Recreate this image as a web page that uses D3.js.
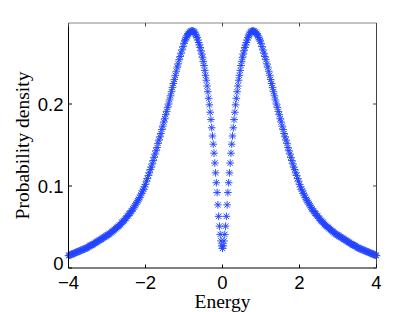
<!DOCTYPE html>
<meta charset="utf-8">
<style>
body {
  margin: 0;
  background: #fff;
}
.tick-label {
  font-family: "Liberation Sans", Arial, sans-serif;
  font-size: 18.5px;
  fill: #000;
}
.axis-title {
  font-family: "Liberation Serif", "Times New Roman", serif;
  font-size: 19.5px;
  fill: #000;
}
.marker {
  fill: none;
  stroke: #2343ff;
  stroke-width: 0.95px;
}
</style>
<body>
<script src="https://d3js.org/d3.v7.min.js"></script>
<script>
var width = 415,
    height = 312;

// energies (x)
var energy = [
  -4.000, -3.975, -3.950, -3.925, -3.900, -3.875, -3.850, -3.825, -3.800, -3.775,
  -3.750, -3.725, -3.700, -3.675, -3.650, -3.625, -3.600, -3.575, -3.550, -3.525,
  -3.500, -3.475, -3.450, -3.425, -3.400, -3.375, -3.350, -3.325, -3.300, -3.275,
  -3.250, -3.225, -3.200, -3.175, -3.150, -3.125, -3.100, -3.075, -3.050, -3.025,
  -3.000, -2.975, -2.950, -2.925, -2.900, -2.875, -2.850, -2.825, -2.800, -2.775,
  -2.750, -2.725, -2.700, -2.675, -2.650, -2.625, -2.600, -2.575, -2.550, -2.525,
  -2.500, -2.475, -2.450, -2.425, -2.400, -2.375, -2.350, -2.325, -2.300, -2.275,
  -2.250, -2.225, -2.200, -2.175, -2.150, -2.125, -2.100, -2.075, -2.050, -2.025,
  -2.000, -1.975, -1.950, -1.925, -1.900, -1.875, -1.850, -1.825, -1.800, -1.775,
  -1.750, -1.725, -1.700, -1.675, -1.650, -1.625, -1.600, -1.575, -1.550, -1.525,
  -1.500, -1.475, -1.450, -1.425, -1.400, -1.375, -1.350, -1.325, -1.300, -1.275,
  -1.250, -1.225, -1.200, -1.175, -1.150, -1.125, -1.100, -1.075, -1.050, -1.025,
  -1.00, -0.98, -0.96, -0.94, -0.92, -0.90, -0.88, -0.86, -0.84, -0.82,
  -0.80, -0.78, -0.76, -0.74, -0.72, -0.70, -0.68, -0.66, -0.64, -0.62,
  -0.60, -0.58, -0.56, -0.54, -0.52, -0.50, -0.48, -0.46, -0.44, -0.42,
  -0.40, -0.38, -0.36, -0.34, -0.32, -0.30, -0.28, -0.26, -0.24, -0.22,
  -0.20, -0.18, -0.16, -0.14, -0.12, -0.10, -0.08, -0.06, -0.04, -0.02,
   0.00,
   0.02,  0.04,  0.06,  0.08,  0.10,  0.12,  0.14,  0.16,  0.18,  0.20,
   0.22,  0.24,  0.26,  0.28,  0.30,  0.32,  0.34,  0.36,  0.38,  0.40,
   0.42,  0.44,  0.46,  0.48,  0.50,  0.52,  0.54,  0.56,  0.58,  0.60,
   0.62,  0.64,  0.66,  0.68,  0.70,  0.72,  0.74,  0.76,  0.78,  0.80,
   0.82,  0.84,  0.86,  0.88,  0.90,  0.92,  0.94,  0.96,  0.98,  1.00,
   1.025, 1.050, 1.075, 1.100, 1.125, 1.150, 1.175, 1.200, 1.225, 1.250,
   1.275, 1.300, 1.325, 1.350, 1.375, 1.400, 1.425, 1.450, 1.475, 1.500,
   1.525, 1.550, 1.575, 1.600, 1.625, 1.650, 1.675, 1.700, 1.725, 1.750,
   1.775, 1.800, 1.825, 1.850, 1.875, 1.900, 1.925, 1.950, 1.975, 2.000,
   2.025, 2.050, 2.075, 2.100, 2.125, 2.150, 2.175, 2.200, 2.225, 2.250,
   2.275, 2.300, 2.325, 2.350, 2.375, 2.400, 2.425, 2.450, 2.475, 2.500,
   2.525, 2.550, 2.575, 2.600, 2.625, 2.650, 2.675, 2.700, 2.725, 2.750,
   2.775, 2.800, 2.825, 2.850, 2.875, 2.900, 2.925, 2.950, 2.975, 3.000,
   3.025, 3.050, 3.075, 3.100, 3.125, 3.150, 3.175, 3.200, 3.225, 3.250,
   3.275, 3.300, 3.325, 3.350, 3.375, 3.400, 3.425, 3.450, 3.475, 3.500,
   3.525, 3.550, 3.575, 3.600, 3.625, 3.650, 3.675, 3.700, 3.725, 3.750,
   3.775, 3.800, 3.825, 3.850, 3.875, 3.900, 3.925, 3.950, 3.975, 4.000
];

// probability density (y) at each energy
var density = [
  0.015, 0.0155, 0.016, 0.0165, 0.017, 0.0175, 0.018, 0.0185, 0.019, 0.0195,
  0.020, 0.0205, 0.021, 0.0215, 0.022, 0.0225, 0.023, 0.0235, 0.024, 0.0245,
  0.025, 0.026, 0.027, 0.0275, 0.028, 0.0285, 0.029, 0.030, 0.031, 0.0315,
  0.032, 0.033, 0.034, 0.0345, 0.035, 0.036, 0.037, 0.0375, 0.038, 0.039,
  0.040, 0.0405, 0.041, 0.042, 0.043, 0.044, 0.045, 0.046, 0.047, 0.048,
  0.049, 0.050, 0.051, 0.052, 0.053, 0.055, 0.056, 0.057, 0.058, 0.060,
  0.061, 0.063, 0.064, 0.066, 0.067, 0.069, 0.070, 0.072, 0.074, 0.076,
  0.078, 0.080, 0.082, 0.084, 0.086, 0.089, 0.091, 0.094, 0.096, 0.099,
  0.102, 0.106, 0.109, 0.113, 0.116, 0.120, 0.123, 0.127, 0.131, 0.135,
  0.139, 0.143, 0.147, 0.152, 0.156, 0.160, 0.164, 0.169, 0.173, 0.178,
  0.182, 0.187, 0.191, 0.196, 0.200, 0.205, 0.210, 0.215, 0.220, 0.225,
  0.230, 0.235, 0.240, 0.245, 0.249, 0.254, 0.258, 0.262, 0.266, 0.270,
  0.274, 0.277, 0.279, 0.281, 0.283, 0.285, 0.286, 0.287, 0.288, 0.289,
  0.289, 0.289, 0.289, 0.288, 0.287, 0.285, 0.283, 0.281, 0.278, 0.275,
  0.272, 0.269, 0.265, 0.261, 0.257, 0.252, 0.247, 0.241, 0.235, 0.229,
  0.222, 0.215, 0.207, 0.199, 0.190, 0.181, 0.171, 0.161, 0.151, 0.140,
  0.128, 0.116, 0.104, 0.092, 0.077, 0.063, 0.051, 0.041, 0.033, 0.027,
  0.024,
  0.027, 0.033, 0.041, 0.051, 0.063, 0.077, 0.092, 0.104, 0.116, 0.128,
  0.140, 0.151, 0.161, 0.171, 0.181, 0.190, 0.199, 0.207, 0.215, 0.222,
  0.229, 0.235, 0.241, 0.247, 0.252, 0.257, 0.261, 0.265, 0.269, 0.272,
  0.275, 0.278, 0.281, 0.283, 0.285, 0.287, 0.288, 0.289, 0.289, 0.289,
  0.289, 0.288, 0.287, 0.286, 0.285, 0.283, 0.281, 0.279, 0.277, 0.274,
  0.270, 0.266, 0.262, 0.258, 0.254, 0.249, 0.245, 0.240, 0.235, 0.230,
  0.225, 0.220, 0.215, 0.210, 0.205, 0.200, 0.196, 0.191, 0.187, 0.182,
  0.178, 0.173, 0.169, 0.164, 0.160, 0.156, 0.152, 0.147, 0.143, 0.139,
  0.135, 0.131, 0.127, 0.123, 0.120, 0.116, 0.113, 0.109, 0.106, 0.102,
  0.099, 0.096, 0.094, 0.091, 0.089, 0.086, 0.084, 0.082, 0.080, 0.078,
  0.076, 0.074, 0.072, 0.070, 0.069, 0.067, 0.066, 0.064, 0.063, 0.061,
  0.060, 0.058, 0.057, 0.056, 0.055, 0.053, 0.052, 0.051, 0.050, 0.049,
  0.048, 0.047, 0.046, 0.045, 0.044, 0.043, 0.042, 0.041, 0.0405, 0.040,
  0.039, 0.038, 0.0375, 0.037, 0.036, 0.035, 0.0345, 0.034, 0.033, 0.032,
  0.0315, 0.031, 0.030, 0.029, 0.0285, 0.028, 0.0275, 0.027, 0.026, 0.025,
  0.0245, 0.024, 0.0235, 0.023, 0.0225, 0.022, 0.0215, 0.021, 0.0205, 0.020,
  0.0195, 0.019, 0.0185, 0.018, 0.0175, 0.017, 0.0165, 0.016, 0.0155, 0.015
];

var xTicks = [-4, -2, 0, 2, 4];
var yTicks = [0, 0.1, 0.2];
var yTickLabels = ["0", "0.1", "0.2"];

var margin = {left: 68.5, right: 38.5, top: 23, bottom: 44};
var x0 = margin.left, x1 = width - margin.right,
    y0 = height - margin.bottom, y1 = margin.top;

var x = d3.scaleLinear().domain([-4, 4]).range([x0, x1]);
var y = d3.scaleLinear().domain([0, 0.2988]).range([y0, y1]);

var svg = d3.select("body").append("svg")
  .attr("width", width)
  .attr("height", height);

// markers (asterisk, like matlab '*')
var r = 3.8, d = r * 0.72;
var star = "M" + (-r) + ",0H" + r + "M0," + (-r) + "V" + r +
  "M" + (-d) + "," + (-d) + "L" + d + "," + d +
  "M" + (-d) + "," + d + "L" + d + "," + (-d);

svg.append("g")
  .selectAll("path")
  .data(d3.range(energy.length))
  .enter().append("path")
    .attr("class", "marker")
    .attr("d", star)
    .attr("transform", function(i) {
      return "translate(" + x(energy[i]) + "," + y(density[i]) + ")";
    });

// box
svg.append("line").attr("x1", x0).attr("x2", x1).attr("y1", y1).attr("y2", y1)
  .attr("stroke", "#888").attr("stroke-width", 1);
svg.append("line").attr("x1", x1).attr("x2", x1).attr("y1", y1).attr("y2", y0)
  .attr("stroke", "#444").attr("stroke-width", 1);
svg.append("line").attr("x1", x0).attr("x2", x1).attr("y1", y0).attr("y2", y0)
  .attr("stroke", "#000").attr("stroke-width", 1);
svg.append("line").attr("x1", x0).attr("x2", x0).attr("y1", y1).attr("y2", y0)
  .attr("stroke", "#000").attr("stroke-width", 1);

// ticks inward on all sides
var tl = 3.5;
xTicks.forEach(function(t) {
  svg.append("line").attr("x1", x(t)).attr("x2", x(t))
    .attr("y1", y0).attr("y2", y0 - tl).attr("stroke", "#000");
  svg.append("line").attr("x1", x(t)).attr("x2", x(t))
    .attr("y1", y1).attr("y2", y1 + tl).attr("stroke", "#444");
  svg.append("text").attr("class", "tick-label")
    .attr("x", x(t)).attr("y", y0 + 21)
    .attr("text-anchor", "middle")
    .text(t < 0 ? "\u2212" + Math.abs(t) : t);
});
yTicks.forEach(function(t, i) {
  svg.append("line").attr("x1", x0).attr("x2", x0 + tl)
    .attr("y1", y(t)).attr("y2", y(t)).attr("stroke", "#000");
  svg.append("line").attr("x1", x1).attr("x2", x1 - tl)
    .attr("y1", y(t)).attr("y2", y(t)).attr("stroke", "#444");
  svg.append("text").attr("class", "tick-label")
    .attr("x", x0 - 5).attr("y", y(t) + (t === 0 ? 2 : 7))
    .attr("text-anchor", "end")
    .text(yTickLabels[i]);
});

svg.append("text").attr("class", "axis-title")
  .attr("x", (x0 + x1) / 2).attr("y", 308)
  .attr("text-anchor", "middle")
  .text("Energy");

svg.append("text").attr("class", "axis-title")
  .attr("transform", "translate(29," + ((y0 + y1) / 2) + ") rotate(-90)")
  .attr("text-anchor", "middle")
  .text("Probability density");
</script>
